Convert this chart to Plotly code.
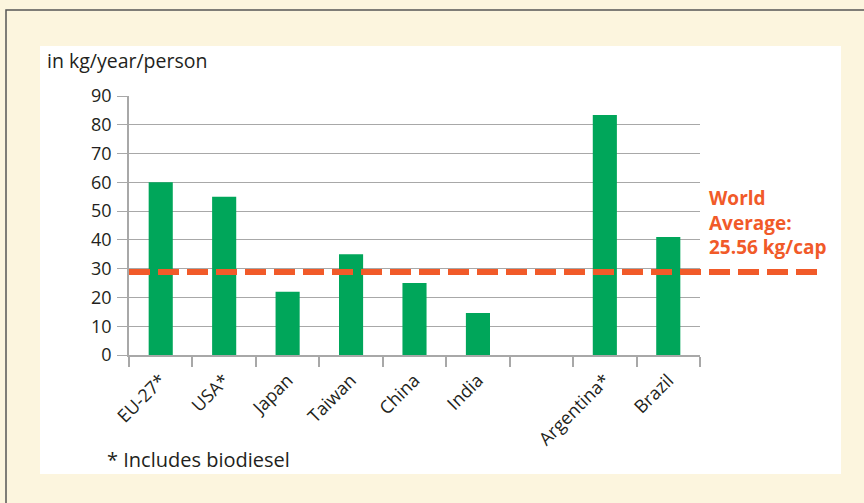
import plotly.graph_objects as go

categories = ["EU-27*", "USA*", "Japan", "Taiwan", "China", "India", " ", "Argentina*", "Brazil"]
values = [60, 55, 22, 35, 25, 14.6, None, 83.4, 41]
world_avg_line = 28.8
world_avg_label = "World<br>Average:<br>25.56 kg/cap"
y_ticks = [0, 10, 20, 30, 40, 50, 60, 70, 80, 90]

W, H = 864, 503
L, R, T, B = 129, 700, 96, 355
pw, ph = R - L, B - T

def px(x):
    return (x - L) / pw

def py(y):
    return (B - y) / ph

FONT = "Open Sans"
TXT = "#231f20"
GREEN = "#00a65a"
ORANGE = "#f15a29"
BEIGE = "#fcf5de"
GRID = "#a8a8a8"

fig = go.Figure()
fig.add_trace(go.Bar(x=categories, y=values, marker=dict(color=GREEN, line=dict(width=0)),
                     hoverinfo="x+y"))

fig.update_layout(
    width=W, height=H,
    margin=dict(l=L, r=W - R, t=T, b=H - B, pad=0),
    paper_bgcolor=BEIGE,
    plot_bgcolor="rgba(0,0,0,0)",
    bargap=0.62,
    showlegend=False,
    font=dict(family=FONT, color=TXT, size=16),
    xaxis=dict(
        type="category",
        categoryorder="array", categoryarray=categories,
        tickson="boundaries",
        ticks="outside", ticklen=10, tickcolor=GRID, tickwidth=1.5,
        showline=True, linecolor=GRID, linewidth=1.5,
        showgrid=False,
        tickangle=-45,
        ticklabelstandoff=6,
        tickfont=dict(size=18, family=FONT, color=TXT),
    ),
    yaxis=dict(
        range=[0, 90],
        tickvals=y_ticks,
        ticks="outside", ticklen=10, tickcolor=GRID, tickwidth=1,
        showline=True, linecolor=GRID, linewidth=1.5,
        showgrid=True, gridcolor=GRID, gridwidth=1,
        zeroline=False,
        ticklabelstandoff=2,
        tickfont=dict(size=18, family=FONT, color=TXT),
    ),
    shapes=[
        dict(type="rect", xref="paper", yref="paper",
             x0=px(6), x1=px(900), y0=py(10), y1=py(540),
             line=dict(color="#555555", width=1.5), fillcolor=BEIGE, layer="below"),
        dict(type="rect", xref="paper", yref="paper",
             x0=px(40), x1=px(841), y0=py(46), y1=py(474),
             line=dict(width=0), fillcolor="white", layer="below"),
        dict(type="line", xref="paper", yref="y",
             x0=0, x1=px(821), y0=world_avg_line, y1=world_avg_line,
             line=dict(color=ORANGE, width=6, dash="21px,8px"), layer="above"),
    ],
    annotations=[
        dict(text="in kg/year/person", xref="paper", yref="paper",
             x=px(45), y=py(60), xanchor="left", yanchor="middle",
             showarrow=False, font=dict(size=19.5, family=FONT, color=TXT)),
        dict(text="* Includes biodiesel", xref="paper", yref="paper",
             x=px(105), y=py(459), xanchor="left", yanchor="middle",
             showarrow=False, font=dict(size=20, family=FONT, color=TXT)),
        dict(text="<b>" + world_avg_label.replace("<br>", "</b><br><b>") + "</b>",
             xref="paper", yref="paper",
             x=px(707), y=py(222), xanchor="left", yanchor="middle", align="left",
             showarrow=False, font=dict(size=19, family=FONT, color=ORANGE)),
    ],
)

fig.write_html("out.html", config={"displayModeBar": False},
               post_script="document.body.style.margin='0';document.body.style.overflow='hidden';")
